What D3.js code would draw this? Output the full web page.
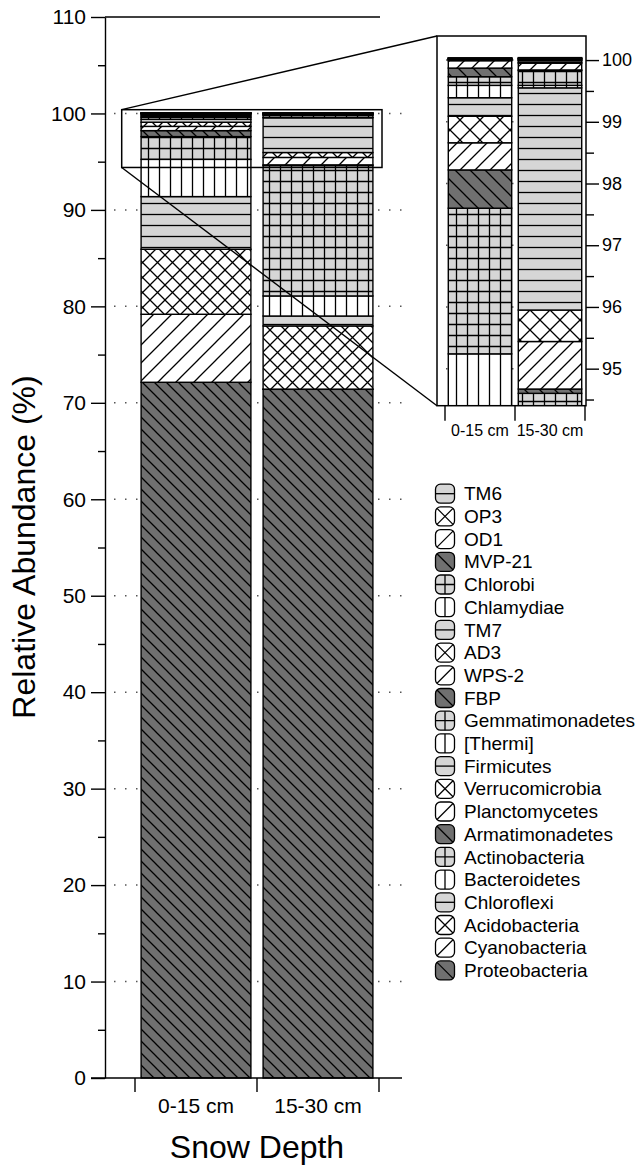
<!DOCTYPE html>
<html>
<head>
<meta charset="utf-8">
<script src="https://cdn.jsdelivr.net/npm/d3@7"></script>
<style>
  body { margin: 0; background: #fff; }
  svg { font-family: "Liberation Sans", Arial, sans-serif; }
</style>
</head>
<body>
<svg id="chart" width="636" height="1165"></svg>
<script>
// stacking order, bottom to top
var phyla = ["Proteobacteria", "Cyanobacteria", "Acidobacteria", "Chloroflexi", "Bacteroidetes",
  "Actinobacteria", "Armatimonadetes", "Planctomycetes", "Verrucomicrobia", "Firmicutes",
  "[Thermi]", "Gemmatimonadetes", "FBP", "WPS-2", "AD3", "TM7", "Chlamydiae", "Chlorobi",
  "MVP-21", "OD1", "OP3", "TM6"];
var depths = ["0-15 cm", "15-30 cm"];
var depth0to15 = [72.13, 7.05, 6.74, 5.46, 3.86, 2.36, 0.62, 0.44, 0.43, 0.30,
  0.20, 0.14, 0.14, 0.12, 0.01, 0.01, 0.005, 0.005, 0.005, 0.005, 0.003, 0.002];
var depth15to30 = [71.40, 0.02, 6.55, 1.03, 2.08, 13.52, 0.07, 0.77, 0.51, 3.60,
  0.04, 0.24, 0.01, 0.11, 0.01, 0.03, 0.01, 0.01, 0.01, 0.005, 0.005, 0.01];
var mainTicks = d3.range(0, 111, 10);
var mainMinor = d3.range(5, 110, 10);
var insetTicks = [95, 96, 97, 98, 99, 100];
var insetMinor = [94.5, 95.5, 96.5, 97.5, 98.5, 99.5];
var zoomRange = [94.4, 100.39];

var kinds = ["back", "fwd", "cross", "horiz", "vert", "grid"];
var fills = { back: "#707070", fwd: "#fff", cross: "#fff", horiz: "#d6d6d6", vert: "#fff", grid: "#d6d6d6" };

var rows = depths.map(function(d, i) {
  var r = { depth: d };
  var vals = i === 0 ? depth0to15 : depth15to30;
  phyla.forEach(function(p, j) { r[p] = vals[j]; });
  return r;
});
var series = d3.stack().keys(phyla)(rows);

var svg = d3.select("#chart");
var defs = svg.append("defs");

function tilePath(kind, s) {
  var back = "M0,0L" + s + "," + s + "M-2," + (s - 2) + "L2," + (s + 2) + "M" + (s - 2) + ",-2L" + (s + 2) + ",2";
  var fwd = "M0," + s + "L" + s + ",0M-2,2L2,-2M" + (s - 2) + "," + (s + 2) + "L" + (s + 2) + "," + (s - 2);
  var h = "M0," + s / 2 + "H" + s;
  var v = "M" + s / 2 + ",0V" + s;
  return { back: back, fwd: fwd, cross: back + fwd, horiz: h, vert: v, grid: h + v }[kind];
}

// one pattern set per panel, the inset has wider diagonals
function makePatterns(prefix, sizes) {
  kinds.forEach(function(k) {
    var s = sizes[k];
    var p = defs.append("pattern")
        .attr("id", prefix + k)
        .attr("patternUnits", "userSpaceOnUse")
        .attr("width", s)
        .attr("height", s);
    p.append("rect").attr("width", s).attr("height", s).attr("fill", fills[k]);
    p.append("path").attr("d", tilePath(k, s))
        .attr("stroke", "#000").attr("stroke-width", 1.3).attr("fill", "none");
  });
}
makePatterns("m-", { back: 12, fwd: 18, cross: 15, horiz: 11, vert: 11, grid: 11 });
makePatterns("i-", { back: 15, fwd: 15, cross: 20, horiz: 11, vert: 11, grid: 11 });

function kindOf(i) { return kinds[i % 6]; }

// main panel
var y = d3.scaleLinear().domain([0, 110]).range([1078, 17]);
var x = d3.scaleBand().domain(depths).range([135, 379]).paddingInner(0.1).paddingOuter(0.05);

svg.append("g").selectAll("line")
    .data(mainTicks.filter(function(t) { return t > 0 && t < 110; }))
  .enter().append("line")
    .attr("x1", 105).attr("x2", 402)
    .attr("y1", function(d) { return y(d); })
    .attr("y2", function(d) { return y(d); })
    .attr("stroke", "#555").attr("stroke-width", 1.5)
    .attr("stroke-dasharray", "1.5 9.5").attr("stroke-dashoffset", -9);

svg.append("g").selectAll("g")
    .data(series)
  .enter().append("g")
    .attr("fill", function(d, i) { return "url(#m-" + kindOf(i) + ")"; })
  .selectAll("rect")
    .data(function(d) { return d; })
  .enter().append("rect")
    .attr("x", function(d) { return x(d.data.depth); })
    .attr("width", x.bandwidth())
    .attr("y", function(d) { return y(d[1]); })
    .attr("height", function(d) { return y(d[0]) - y(d[1]); })
    .attr("stroke", "#000").attr("stroke-width", 1.4);

var yAxis = svg.append("g")
    .attr("transform", "translate(105,0)")
    .call(d3.axisLeft(y).tickValues(mainTicks).tickSize(14).tickSizeOuter(0).tickPadding(5));
svg.append("g")
    .attr("transform", "translate(105,0)")
    .call(d3.axisLeft(y).tickValues(mainMinor).tickSize(7).tickFormat("").tickSizeOuter(0))
    .select(".domain").remove();
yAxis.selectAll("text").attr("font-size", 21).attr("font-family", "Liberation Sans, Arial, sans-serif");
svg.selectAll(".tick line, .domain").attr("stroke", "#000").attr("stroke-width", 1.4);

svg.append("line").attr("x1", 105).attr("x2", 380).attr("y1", 17).attr("y2", 17)
    .attr("stroke", "#000").attr("stroke-width", 1.4);

// x axis with ticks on the band edges
var edges = d3.range(depths.length + 1).map(function(i) { return x.range()[0] + i * x.step(); });
svg.append("line").attr("x1", 91).attr("x2", 402).attr("y1", y(0)).attr("y2", y(0))
    .attr("stroke", "#000").attr("stroke-width", 1.4);
svg.append("g").selectAll("line").data(edges)
  .enter().append("line")
    .attr("x1", function(d) { return d; }).attr("x2", function(d) { return d; })
    .attr("y1", y(0)).attr("y2", y(0) + 14)
    .attr("stroke", "#000").attr("stroke-width", 1.4);
svg.append("g").selectAll("text").data(depths)
  .enter().append("text")
    .attr("x", function(d) { return x(d) + x.bandwidth() / 2; })
    .attr("y", 1113)
    .attr("text-anchor", "middle")
    .attr("font-size", 21)
    .text(function(d) { return d; });

svg.append("text")
    .attr("x", 257).attr("y", 1158)
    .attr("text-anchor", "middle").attr("font-size", 32)
    .text("Snow Depth");
svg.append("text")
    .attr("transform", "translate(35,547) rotate(-90)")
    .attr("text-anchor", "middle").attr("font-size", 32)
    .text("Relative Abundance (%)");

// zoom box on the main bars
var box = { x0: 121.7, x1: 382, top: y(zoomRange[1]), bottom: y(zoomRange[0]) };
svg.append("rect")
    .attr("x", box.x0).attr("y", box.top)
    .attr("width", box.x1 - box.x0).attr("height", box.bottom - box.top)
    .attr("fill", "none").attr("stroke", "#000").attr("stroke-width", 1.5);

// inset panel
var yi = d3.scaleLinear().domain(zoomRange).range([405.7, 36]);
var xi = d3.scaleBand().domain(depths).range([445, 585]).paddingInner(0.094).paddingOuter(0.047);
var inset = { left: 437, right: 586 };

svg.append("line").attr("x1", box.x0).attr("y1", box.top).attr("x2", inset.left).attr("y2", yi(zoomRange[1]))
    .attr("stroke", "#000").attr("stroke-width", 1.4);
svg.append("line").attr("x1", box.x0).attr("y1", box.bottom).attr("x2", inset.left).attr("y2", yi(zoomRange[0]))
    .attr("stroke", "#000").attr("stroke-width", 1.4);
svg.append("rect")
    .attr("x", inset.left).attr("y", yi(zoomRange[1]))
    .attr("width", inset.right - inset.left).attr("height", yi(zoomRange[0]) - yi(zoomRange[1]))
    .attr("fill", "#fff");

defs.append("clipPath").attr("id", "inset-clip")
  .append("rect")
    .attr("x", inset.left).attr("y", yi(zoomRange[1]))
    .attr("width", inset.right - inset.left).attr("height", yi(zoomRange[0]) - yi(zoomRange[1]));

var ig = svg.append("g").attr("clip-path", "url(#inset-clip)");
ig.append("g").selectAll("line")
    .data(insetTicks)
  .enter().append("line")
    .attr("x1", inset.left).attr("x2", inset.right)
    .attr("y1", function(d) { return yi(d); })
    .attr("y2", function(d) { return yi(d); })
    .attr("stroke", "#555").attr("stroke-width", 1.5)
    .attr("stroke-dasharray", "1.5 9.5").attr("stroke-dashoffset", -9);
ig.append("g").selectAll("g")
    .data(series)
  .enter().append("g")
    .attr("fill", function(d, i) { return "url(#i-" + kindOf(i) + ")"; })
  .selectAll("rect")
    .data(function(d) { return d; })
  .enter().append("rect")
    .attr("x", function(d) { return xi(d.data.depth); })
    .attr("width", xi.bandwidth())
    .attr("y", function(d) { return yi(d[1]); })
    .attr("height", function(d) { return yi(d[0]) - yi(d[1]); })
    .attr("stroke", "#000").attr("stroke-width", 1.4);

svg.append("rect")
    .attr("x", inset.left).attr("y", yi(zoomRange[1]))
    .attr("width", inset.right - inset.left).attr("height", yi(zoomRange[0]) - yi(zoomRange[1]))
    .attr("fill", "none").attr("stroke", "#000").attr("stroke-width", 1.5);

var iAxis = svg.append("g")
    .attr("transform", "translate(" + inset.right + ",0)")
    .call(d3.axisRight(yi).tickValues(insetTicks).tickFormat(d3.format("d"))
      .tickSize(13).tickSizeOuter(0).tickPadding(3));
iAxis.select(".domain").remove();
iAxis.selectAll("text").attr("font-size", 18).attr("font-family", "Liberation Sans, Arial, sans-serif");
var iMinor = svg.append("g")
    .attr("transform", "translate(" + inset.right + ",0)")
    .call(d3.axisRight(yi).tickValues(insetMinor).tickSize(8).tickFormat(""));
iMinor.select(".domain").remove();
svg.selectAll(".tick line").attr("stroke", "#000").attr("stroke-width", 1.4);

var iEdges = d3.range(depths.length + 1).map(function(i) { return xi.range()[0] + i * xi.step(); });
svg.append("g").selectAll("line").data(iEdges)
  .enter().append("line")
    .attr("x1", function(d) { return d; }).attr("x2", function(d) { return d; })
    .attr("y1", yi(zoomRange[0])).attr("y2", yi(zoomRange[0]) + 15)
    .attr("stroke", "#000").attr("stroke-width", 1.4);
svg.append("g").selectAll("text").data(depths)
  .enter().append("text")
    .attr("x", function(d) { return xi(d) + xi.bandwidth() / 2; })
    .attr("y", 436)
    .attr("text-anchor", "middle")
    .attr("font-size", 16)
    .text(function(d) { return d; });

// legend, top entry is the last stacked
var legendItems = phyla.map(function(p, i) { return { name: p, kind: kindOf(i) }; }).reverse();
var glyphs = {
  back: "M1.5,1.5L17.5,17.5",
  fwd: "M1.5,17.5L17.5,1.5",
  cross: "M1.5,1.5L17.5,17.5M1.5,17.5L17.5,1.5",
  horiz: "M0,9.5H19",
  vert: "M9.5,0V19",
  grid: "M0,9.5H19M9.5,0V19"
};
var legend = svg.append("g").selectAll("g")
    .data(legendItems)
  .enter().append("g")
    .attr("transform", function(d, i) { return "translate(435.5," + (493.7 + i * 22.7) + ")"; });
legend.append("rect")
    .attr("y", -9.5).attr("width", 19).attr("height", 19).attr("rx", 5)
    .attr("fill", function(d) { return fills[d.kind]; })
    .attr("stroke", "#000").attr("stroke-width", 1.3);
legend.append("path")
    .attr("transform", "translate(0,-9.5)")
    .attr("d", function(d) { return glyphs[d.kind]; })
    .attr("stroke", "#000").attr("stroke-width", 1.3);
legend.append("text")
    .attr("x", 28.5).attr("dy", "0.35em")
    .attr("font-size", 19)
    .text(function(d) { return d.name; });
</script>
</body>
</html>
